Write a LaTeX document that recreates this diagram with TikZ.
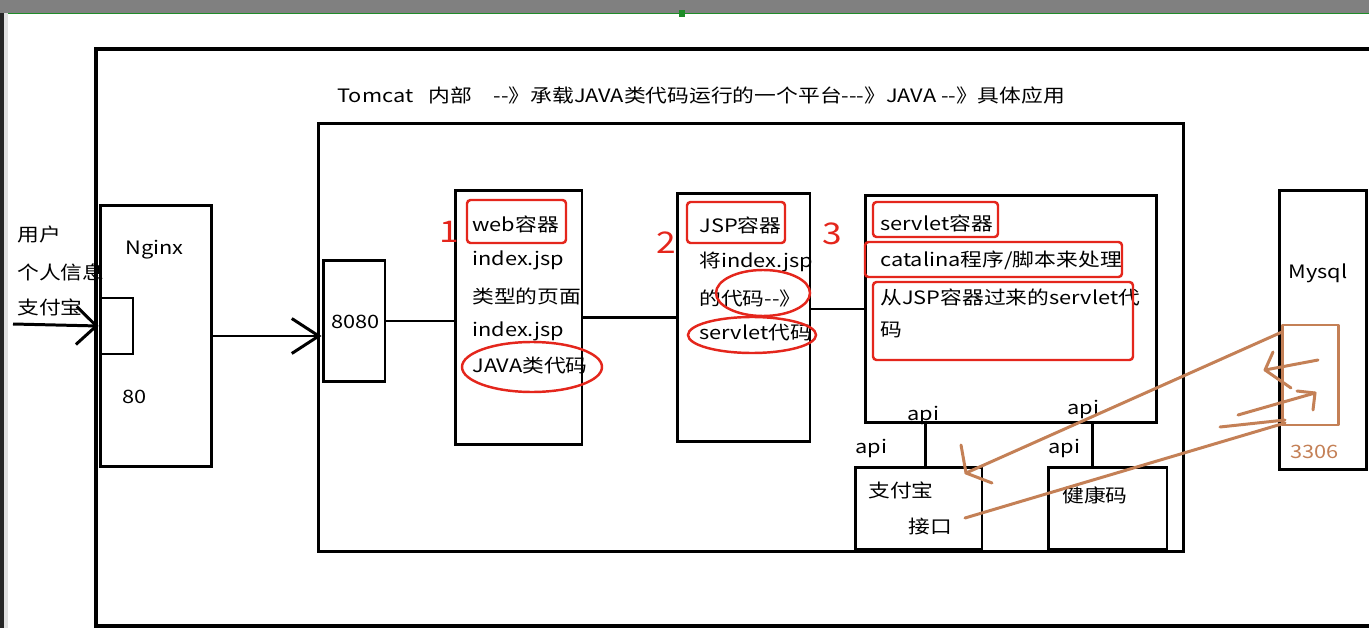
\documentclass[tikz,border=0pt]{standalone}
\usepackage{fontspec}
\setmainfont{Noto Sans CJK SC}
\definecolor{markRed}{RGB}{228, 38, 28}
\definecolor{penBrown}{RGB}{196, 128, 86}
\definecolor{barGray}{RGB}{128, 128, 128}
\definecolor{barGreen}{RGB}{30, 140, 40}
\usetikzlibrary{arrows.meta, positioning, calc}

\begin{document}
\begin{tikzpicture}[x=0.02cm, y=-0.02cm,
        box/.style={draw, line width=1.7pt, inner sep=0pt},
        lbl/.style={font=\fontsize{10.5}{12}\selectfont, xscale=1.18, anchor=west, inner sep=0pt},
        num/.style={font=\fontsize{17}{20}\selectfont, text=markRed, xscale=1.18, inner sep=0pt},
        hlbox/.style={draw=markRed, line width=1.4pt, rounded corners=2pt},
        hlring/.style={draw=markRed, line width=1.4pt},
        link/.style={line width=1.7pt},
        sketch/.style={draw=penBrown, line width=1.7pt, line cap=round, line join=round}]
        \useasboundingbox (0,0) rectangle (1369,628);
        \clip (0,0) rectangle (1369,628);
        \fill[white] (0,0) rectangle (1369,628);

        % window edge
        \fill[barGray] (0,0) rectangle (1369,13);
        \draw[barGreen, line width=0.8pt] (5,13.5) -- (1369,13.5);
        \fill[barGreen] (679,10) rectangle (685,17);
        \fill[black!85] (0,13) rectangle (4,628);
        \fill[black!12] (4,13) rectangle (8,628);

        % outer frame and Tomcat box
        \draw[line width=2.2pt] (96,49) rectangle (1400,626);
        \node[lbl] (title) at (337,95)
            {Tomcat\hspace{0.7em}内部\hspace{1.0em}-{}-》承载JAVA类代码运行的一个平台-{}-{}-》JAVA -{}-》具体应用};
        \node[box, minimum width=17.32cm, minimum height=8.58cm] (tomcat) at (751,337.5) {};

        % user and Nginx
        \node[lbl] (user) at (17,235) {用户};
        \node[lbl] (info) at (17,272) {个人信息};
        \node[lbl] (pay) at (17,307) {支付宝};
        \node[box, minimum width=2.24cm, minimum height=5.24cm] (nginx) at (156,336) {};
        \node[lbl] at (125,250) {Nginx};
        \node[lbl] at (122,397) {80};
        \node[box, minimum width=0.66cm, minimum height=1.12cm] (port) at (116.5,326) {};
        \coordinate (in) at (13,324);
        \draw[link, -{Straight Barb[length=0.4cm, width=0.76cm]}] (in) -- (port.west);

        % 8080 port
        \node[box, minimum width=1.24cm, minimum height=2.44cm] (p8080) at (354,321) {};
        \node[lbl] at (331,322) {8080};
        \draw[link, -{Straight Barb[length=0.54cm, width=0.7cm]}] (nginx.east) -- (nginx.east -| p8080.west);

        % 1 web container
        \node[box, minimum width=2.54cm, minimum height=5.1cm] (web) at (518.5,317.5) {};
        \node[lbl] at (472,224) {web容器};
        \node[lbl] at (472,260) {index.jsp};
        \node[lbl] at (472,296) {类型的页面};
        \node[lbl] at (472,331) {index.jsp};
        \node[lbl] at (472,366) {JAVA类代码};
        \draw[hlbox] (467,200) rectangle (566,243);
        \draw[hlring] (532,367) ellipse [x radius=70, y radius=25];
        \node[num] (n1) at (449,232) {1};
        \draw[link] (p8080.east) -- (p8080.east -| web.west);

        % 2 JSP container
        \node[box, minimum width=2.66cm, minimum height=4.98cm] (jsp) at (743.5,317.5) {};
        \node[lbl] at (699,225) {JSP容器};
        \node[lbl] at (699,262) {将index.jsp};
        \node[lbl] at (699,298) {的代码-{}-》};
        \node[lbl] at (699,333) {servlet代码};
        \draw[hlbox] (687,202) rectangle (785,243);
        \draw[hlring] (763,293) ellipse [x radius=47, y radius=23];
        \draw[hlring] (752,335) ellipse [x radius=64, y radius=18];
        \node[num] (n2) at (666,243) {2};
        \draw[link] (web.east) -- (jsp.west);

        % 3 servlet container
        \node[box, minimum width=5.84cm, minimum height=4.56cm] (servlet) at (1011,309) {};
        \node[lbl] at (880,223) {servlet容器};
        \node[lbl] at (880,260) {catalina程序/脚本来处理};
        \node[lbl] at (880,297) {从JSP容器过来的servlet代};
        \node[lbl] at (880,330) {码};
        \draw[hlbox] (873,202) rectangle (998,237);
        \draw[hlbox] (865,242) rectangle (1122,277);
        \draw[hlbox] (873,282) rectangle (1133,360);
        \node[num] (n3) at (832,234) {3};
        \draw[link] (jsp.east |- servlet) -- (servlet.west);

        % api boxes
        \node[box, minimum width=2.54cm, minimum height=1.64cm] (alipay) at (918.5,508) {};
        \node[lbl] at (868,490) {支付宝};
        \node[lbl] at (908,527) {接口};
        \node[box, minimum width=2.38cm, minimum height=1.64cm] (health) at (1107.5,508) {};
        \node[lbl] at (1062,495) {健康码};
        \node[lbl] (apiA) at (907,415) {api};
        \node[lbl] (apiB) at (855,448) {api};
        \node[lbl] (apiC) at (1067,409) {api};
        \node[lbl] (apiD) at (1048,448) {api};
        \coordinate (pa) at (925,0);
        \coordinate (hk) at (1092,0);
        \draw[link] (pa |- servlet.south) -- (pa |- alipay.north);
        \draw[link] (hk |- servlet.south) -- (hk |- health.north);

        % Mysql
        \node[box, minimum width=1.74cm, minimum height=5.6cm] (mysql) at (1322.5,330) {};
        \node[lbl] at (1288,273) {Mysql};
        \node[lbl, text=penBrown] at (1290,452) {3306};

        % hand-drawn strokes
        \draw[sketch] (1282,325) rectangle (1338,425);
        \draw[sketch] (1282,332) -- (966,473);
        \draw[sketch] (961,445) -- (966,473) -- (992,483);
        \draw[sketch] (1318,360) -- (1265,370);
        \draw[sketch] (1273,352) -- (1265,370) -- (1291,388);
        \draw[sketch] (1238,415) -- (1315,393);
        \draw[sketch] (1297,391) -- (1315,393) -- (1313,410);
        \draw[sketch] (1220,427) -- (1285,420);
        \draw[sketch] (965,518) -- (1285,423);
\end{tikzpicture}
\end{document}
